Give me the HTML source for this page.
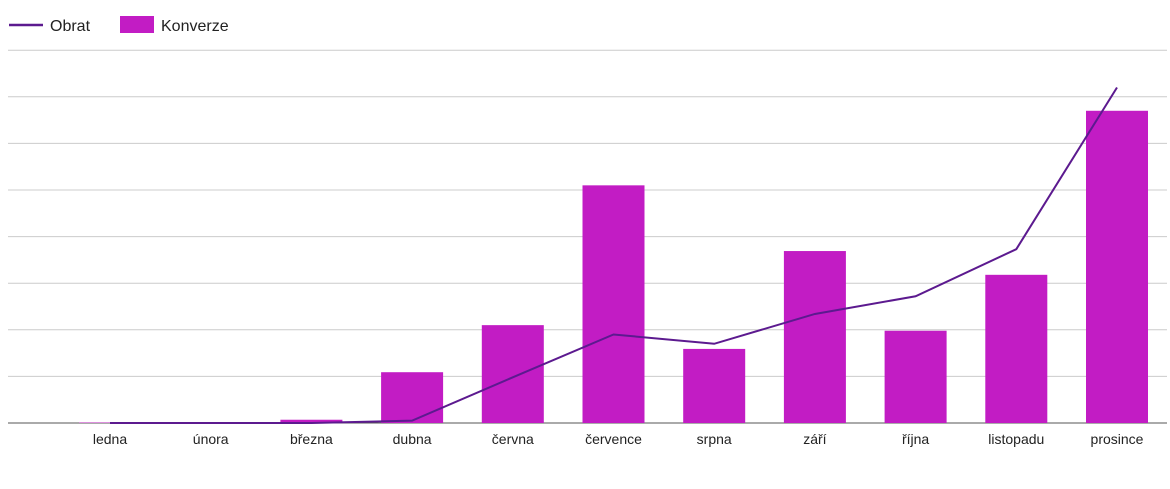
<!DOCTYPE html>
<html><head><meta charset="utf-8"><style>
body{margin:0;background:#fff;font-family:"Liberation Sans",sans-serif}
</style></head><body>
<svg width="1170" height="484">
<g>
<line x1="9" y1="25" x2="43" y2="25" stroke="#5c1a8f" stroke-width="2.5"/>
<text x="50" y="31" font-size="16" fill="#222">Obrat</text>
<rect x="120" y="16" width="34" height="17" fill="#c21cc4"/>
<text x="161" y="31" font-size="16" fill="#222">Konverze</text>
</g>
<g id="grid"></g><g id="bars"></g><g id="line"></g><g id="labels"></g>
</svg>
<script>
const categories=["ledna","února","března","dubna","června","července","srpna","září","října","listopadu","prosince"];
const konverze=[0.01,0.02,0.07,1.09,2.1,5.1,1.59,3.69,1.98,3.18,6.7];
const obrat=[0,0,0,0.05,0.98,1.9,1.7,2.34,2.72,3.73,7.2];
const gridTicks=[0,1,2,3,4,5,6,7,8];
const ns="http://www.w3.org/2000/svg";
const x0=110,step=100.7,base=423,unit=46.6,bw=62;
const X=i=>x0+i*step, Y=v=>base-v*unit;
function mk(t,a,p){const e=document.createElementNS(ns,t);for(const k in a)e.setAttribute(k,a[k]);document.getElementById(p).appendChild(e);return e;}
gridTicks.forEach(v=>{const e=mk("line",{x1:8,x2:1167,y1:Y(v),y2:Y(v),stroke:v===0?"#555":"#ccc","stroke-width":1},"grid");

});
konverze.forEach((v,i)=>{const e=mk("rect",{x:X(i)-bw/2,y:Y(v),width:bw,height:v*unit,fill:"#c21cc4"},"bars");

});
const pl=mk("polyline",{points:obrat.map((v,i)=>X(i)+","+Y(v)).join(" "),fill:"none",stroke:"#5c1a8f","stroke-width":2},"line");


categories.forEach((c,i)=>{const e=mk("text",{x:X(i),y:444,"font-size":14,fill:"#222","text-anchor":"middle"},"labels");e.textContent=c;

});
</script>
</body></html>
